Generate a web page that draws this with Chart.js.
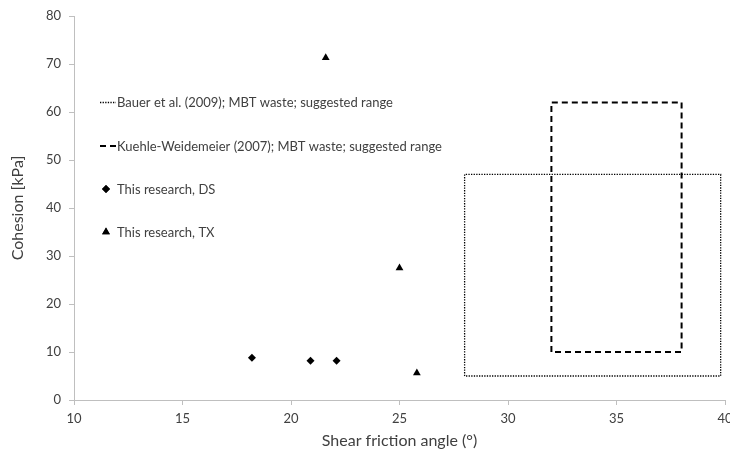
<!DOCTYPE html>
<html><head><meta charset="utf-8">
<script src="https://cdn.jsdelivr.net/npm/chart.js@4/dist/chart.umd.min.js"></script>
<style>html,body{margin:0;padding:0;background:#fff}</style>
</head><body>
<canvas id="c" width="730" height="459"></canvas>
<script>
// ---- data ----
const dsPhi = [18.2, 20.9, 22.1];
const dsC = [8.8, 8.2, 8.2];
const txPhi = [21.6, 25.0, 25.8];
const txC = [71.3, 27.5, 5.6];
const bauerPhi = [28, 39.8];
const bauerC = [5, 47];
const kuehlePhi = [32, 38];
const kuehleC = [10, 62];
const xTicks = [10, 15, 20, 25, 30, 35, 40];
const yTicks = [0, 10, 20, 30, 40, 50, 60, 70, 80];
const seriesLabels = [
  'Bauer et al. (2009); MBT waste; suggested range',
  'Kuehle-Weidemeier (2007); MBT waste; suggested range',
  'This research, DS',
  'This research, TX'
];
const xTitle = 'Shear friction angle (°)';
const yTitle = 'Cohesion [kPa]';

const FONT = 'Lato, "Open Sans", sans-serif';
const TXT = '#404040';
const AX = '#bfbfbf';

function rect(px, cs) {
  return [
    {x: px[0], y: cs[0]}, {x: px[0], y: cs[1]},
    {x: px[1], y: cs[1]}, {x: px[1], y: cs[0]}, {x: px[0], y: cs[0]}
  ];
}
function pts(xs, ys) { return xs.map((x, i) => ({x, y: ys[i]})); }

const legendPlugin = {
  id: 'customLegend',
  afterDraw(chart) {
    const ctx = chart.ctx;
    const rows = [102, 146, 189, 232];
    const tx = 117;
    ctx.save();
    ctx.font = '13px ' + FONT;
    ctx.textBaseline = 'middle';
    ctx.textAlign = 'left';
    ctx.strokeStyle = '#000';
    // Bauer dotted sample
    ctx.lineWidth = 1.3;
    ctx.setLineDash([1.3, 1.3]);
    ctx.beginPath(); ctx.moveTo(100, rows[0] + 0.5); ctx.lineTo(116, rows[0] + 0.5); ctx.stroke();
    // Kuehle dashed sample
    ctx.lineWidth = 2;
    ctx.setLineDash([6, 4]);
    ctx.beginPath(); ctx.moveTo(100, rows[1]); ctx.lineTo(116, rows[1]); ctx.stroke();
    ctx.setLineDash([]);
    // markers
    ctx.fillStyle = '#000';
    Chart.helpers.drawPoint(ctx, {pointStyle: 'rectRot', radius: 4, rotation: 0, borderWidth: 0}, 106, rows[2]);
    ctx.fill();
    Chart.helpers.drawPoint(ctx, {pointStyle: 'triangle', radius: 4.5, rotation: 0, borderWidth: 0}, 106, rows[3]);
    ctx.fill();
    ctx.fillStyle = TXT;
    seriesLabels.forEach((t, i) => ctx.fillText(t, tx, rows[i] + 1));
    ctx.restore();
  }
};

new Chart(document.getElementById('c'), {
  type: 'scatter',
  data: {
    datasets: [
      {
        label: seriesLabels[0], data: rect(bauerPhi, bauerC), showLine: true,
        borderColor: '#000', borderWidth: 1.3, borderDash: [1.3, 1.3], pointRadius: 0, fill: false, tension: 0
      },
      {
        label: seriesLabels[1], data: rect(kuehlePhi, kuehleC), showLine: true,
        borderColor: '#000', borderWidth: 2, borderDash: [6, 4], pointRadius: 0, fill: false, tension: 0
      },
      {
        label: seriesLabels[2], data: pts(dsPhi, dsC), pointStyle: 'rectRot', pointRadius: 4,
        backgroundColor: '#000', borderColor: '#000', borderWidth: 0
      },
      {
        label: seriesLabels[3], data: pts(txPhi, txC), pointStyle: 'triangle', pointRadius: 4.5,
        backgroundColor: '#000', borderColor: '#000', borderWidth: 0
      }
    ]
  },
  options: {
    responsive: false,
    animation: false,
    devicePixelRatio: 1,
    layout: {padding: {top: 16, right: 5, left: 0, bottom: 0}},
    plugins: {legend: {display: false}, tooltip: {enabled: false}},
    scales: {
      x: {
        type: 'linear', min: xTicks[0], max: xTicks[xTicks.length - 1],
        afterBuildTicks: s => { s.ticks = xTicks.map(v => ({value: v})); },
        afterFit: s => { s.height = 59; s.paddingLeft = 0; s.paddingRight = 0; },
        ticks: {color: TXT, font: {family: FONT, size: 13}, padding: 6, maxRotation: 0},
        grid: {display: true, drawOnChartArea: false, drawTicks: true, tickLength: 5, color: AX},
        border: {color: AX, width: 1},
        title: {display: true, text: xTitle, color: TXT, font: {family: FONT, size: 16}, padding: {top: 0, bottom: 9}}
      },
      y: {
        type: 'linear', min: yTicks[0], max: yTicks[yTicks.length - 1],
        afterBuildTicks: s => { s.ticks = yTicks.map(v => ({value: v})); },
        afterFit: s => { s.width = 74; },
        ticks: {color: TXT, font: {family: FONT, size: 13}, padding: 8},
        grid: {display: true, drawOnChartArea: false, drawTicks: true, tickLength: 5, color: AX},
        border: {color: AX, width: 1},
        title: {display: true, text: yTitle, color: TXT, font: {family: FONT, size: 16}, padding: {top: 8, bottom: 0}}
      }
    }
  },
  plugins: [legendPlugin]
});
</script>
</body></html>
